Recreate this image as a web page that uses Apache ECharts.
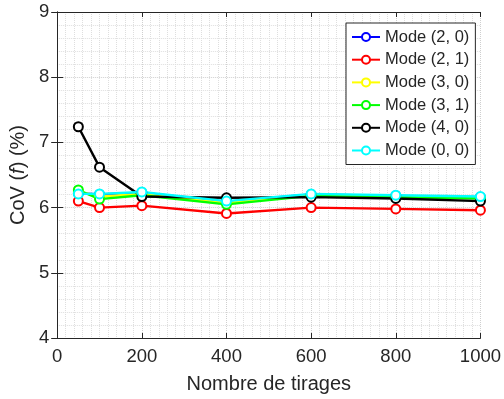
<!DOCTYPE html>
<html>
<head>
<meta charset="utf-8">
<script src="https://cdn.jsdelivr.net/npm/echarts@6/dist/echarts.min.js"></script>
<style>
  html, body { margin: 0; padding: 0; background: #fff; }
  #main { width: 504px; height: 399px; }
</style>
</head>
<body>
<div id="main"></div>
<script>
// nombre de tirages
var tirages = [50, 100, 200, 400, 600, 800, 1000];

// CoV (%) par mode
var mode20 = [6.22, 6.20, 6.23, 6.09, 6.20, 6.18, 6.16];
var mode21 = [6.10, 6.00, 6.03, 5.91, 6.00, 5.98, 5.96];
var mode30 = [6.25, 6.17, 6.21, 6.07, 6.19, 6.17, 6.15];
var mode31 = [6.27, 6.13, 6.19, 6.05, 6.18, 6.16, 6.14];
var mode40 = [7.24, 6.62, 6.17, 6.15, 6.16, 6.14, 6.10];
var mode00 = [6.21, 6.21, 6.24, 6.10, 6.21, 6.19, 6.17];

var modeNames = ['Mode (2, 0)', 'Mode (2, 1)', 'Mode (3, 0)', 'Mode (3, 1)', 'Mode (4, 0)', 'Mode (0, 0)'];
var modeValues = [mode20, mode21, mode30, mode31, mode40, mode00];
var modeColors = ['#0000ff', '#ff0000', '#ffff00', '#00ff00', '#000000', '#00ffff'];

var axisColor = '#262626';
var fontFam = '"Liberation Sans", Arial, sans-serif';

function pairs(vals) {
	var r = [];
	for (var i = 0; i < tirages.length; i++) {
		r.push([tirages[i], vals[i]]);
	}
	return r;
}

var series = [];
for (var k = 0; k < modeNames.length; k++) {
	series.push({
		name: modeNames[k],
		type: 'line',
		data: pairs(modeValues[k]),
		symbol: 'circle',
		symbolSize: 9,
		showAllSymbol: true,
		color: modeColors[k],
		lineStyle: { width: 2.4, color: modeColors[k] },
		itemStyle: { color: '#fff', borderColor: modeColors[k], borderWidth: 2 },
		emphasis: { disabled: true },
		animation: false
	});
}

var chart = echarts.init(document.getElementById('main'));
var option = {
	animation: false,
	grid: { left: 54, right: 19, top: 12, bottom: 61, containLabel: false },
	legend: {
		orient: 'vertical',
		left: 346,
		top: 23,
		width: 127,
		padding: [5, 6, 5, 5],
		backgroundColor: '#fff',
		borderColor: axisColor,
		borderWidth: 1,
		itemWidth: 28,
		itemHeight: 10,
		itemGap: 4.7,
		itemTextGap: 4,
		textStyle: { fontFamily: fontFam, fontSize: 16.5, color: axisColor, lineHeight: 18 },
		data: modeNames
	},
	xAxis: [{
		type: 'value',
		min: 0,
		max: 1000,
		interval: 200,
		name: 'Nombre de tirages',
		nameLocation: 'middle',
		nameGap: 36,
		nameTextStyle: { fontFamily: fontFam, fontSize: 20, color: axisColor },
		axisLine: { lineStyle: { color: axisColor, width: 1 } },
		axisTick: { inside: true, length: 5, lineStyle: { color: axisColor } },
		axisLabel: {
			fontFamily: fontFam, fontSize: 18.5, color: axisColor, margin: 9,
			formatter: function(v) { return String(v); }
		},
		splitLine: { show: true, lineStyle: { color: '#cfcfcf', type: 'dotted', width: 1 } },
		minorTick: { show: false, splitNumber: 10 },
		minorSplitLine: { show: true, lineStyle: { color: '#dedede', type: 'dotted', width: 1 } }
	}, {
		type: 'value',
		position: 'top',
		min: 0,
		max: 1000,
		interval: 200,
		axisLine: { show: true, lineStyle: { color: axisColor, width: 1 } },
		axisTick: { show: true, inside: true, length: 5, lineStyle: { color: axisColor } },
		axisLabel: { show: false },
		splitLine: { show: false }
	}],
	yAxis: [{
		type: 'value',
		min: 4,
		max: 9,
		interval: 1,
		name: '{a|CoV (}{i|f}{a|) (%)}',
		nameLocation: 'middle',
		nameGap: 21,
		nameTextStyle: {
			color: axisColor,
			rich: {
				a: { fontFamily: fontFam, fontSize: 20, color: axisColor },
				i: { fontFamily: fontFam, fontSize: 20, fontStyle: 'italic', color: axisColor }
			}
		},
		axisLine: { show: true, lineStyle: { color: axisColor, width: 1 } },
		axisTick: { show: true, inside: true, length: 6, lineStyle: { color: axisColor } },
		axisLabel: { fontFamily: fontFam, fontSize: 18.5, color: axisColor, margin: 8 },
		splitLine: { show: true, lineStyle: { color: '#cfcfcf', type: 'dotted', width: 1 } },
		minorTick: { show: false, splitNumber: 5 },
		minorSplitLine: { show: true, lineStyle: { color: '#dedede', type: 'dotted', width: 1 } }
	}, {
		type: 'value',
		position: 'right',
		min: 4,
		max: 9,
		interval: 1,
		axisLine: { show: true, lineStyle: { color: axisColor, width: 1 } },
		axisTick: { show: true, inside: true, length: 6, lineStyle: { color: axisColor } },
		axisLabel: { show: false },
		splitLine: { show: false }
	}],
	series: series
};
chart.setOption(option);
</script>
</body>
</html>
